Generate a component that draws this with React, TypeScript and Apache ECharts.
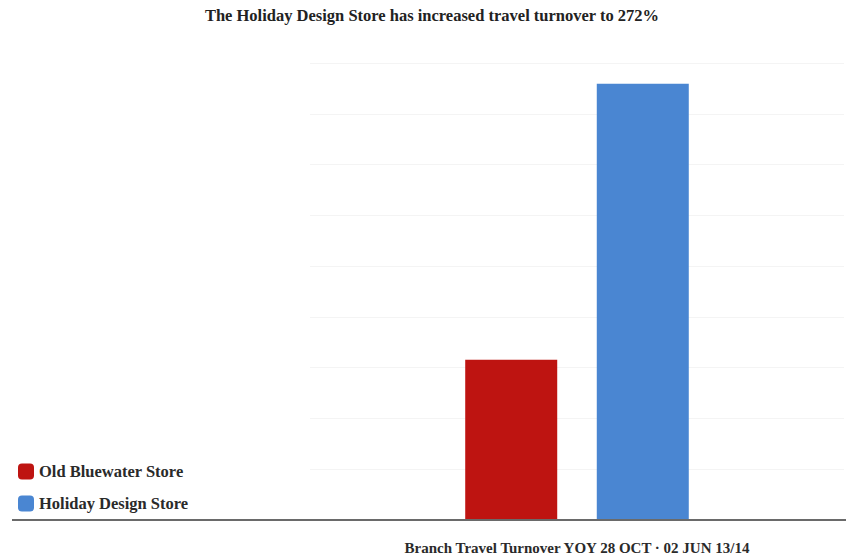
import React, { useEffect, useRef } from "react";
import * as echarts from "echarts";

const categories = ["Branch Travel Turnover YOY 28 OCT · 02 JUN 13/14"];
const seriesNames = ["Old Bluewater Store", "Holiday Design Store"];
const oldBluewaterValues = [100];
const holidayDesignValues = [272];
const titleText = "The Holiday Design Store has increased travel turnover to 272%";

const FONT = "'Liberation Serif', 'DejaVu Serif', serif";

export default function App() {
  const ref = useRef<HTMLDivElement>(null);
  useEffect(() => {
    if (!ref.current) return;
    const chart = echarts.init(ref.current, undefined, { renderer: "svg" });
    chart.setOption({
      animation: false,
      backgroundColor: "#ffffff",
      title: {
        text: titleText,
        left: 427,
        textAlign: "center",
        top: 2,
        textStyle: { fontFamily: FONT, fontSize: 16.5, fontWeight: "bold", color: "#222" },
      },
      legend: {
        orient: "vertical",
        left: 13,
        top: 458,
        itemWidth: 16,
        itemHeight: 16,
        itemGap: 15,
        icon: "roundRect",
        data: seriesNames,
        textStyle: { fontFamily: FONT, fontSize: 16.5, fontWeight: "bold", color: "#2a2a2a" },
      },
      grid: { left: 310, right: 2, top: 63, bottom: 38 },
      xAxis: {
        type: "category",
        data: categories,
        axisLine: { show: false },
        axisTick: { show: false },
        axisLabel: {
          margin: 20,
          fontFamily: FONT,
          fontSize: 15,
          fontWeight: "bold",
          color: "#2a2a2a",
        },
      },
      yAxis: {
        type: "value",
        min: 0,
        max: 285,
        interval: 31.6666667,
        axisLabel: { show: false },
        axisLine: { show: false },
        axisTick: { show: false },
        splitLine: { lineStyle: { color: "#f4f4f4", width: 1 } },
      },
      graphic: [
        {
          type: "line",
          shape: { x1: 12, y1: 520, x2: 846, y2: 520 },
          style: { stroke: "#6a6a6a", lineWidth: 2 },
          z: 10,
        },
      ],
      series: [
        {
          name: seriesNames[0],
          type: "bar",
          data: oldBluewaterValues,
          barWidth: 92,
          barGap: "43%",
          itemStyle: { color: "#BE1411" },
        },
        {
          name: seriesNames[1],
          type: "bar",
          data: holidayDesignValues,
          barWidth: 92,
          itemStyle: { color: "#4A86D2" },
        },
      ],
    });
    return () => chart.dispose();
  }, []);
  return <div ref={ref} style={{ width: 846, height: 558, position: "absolute", left: 0, top: 0 }} />;
}
